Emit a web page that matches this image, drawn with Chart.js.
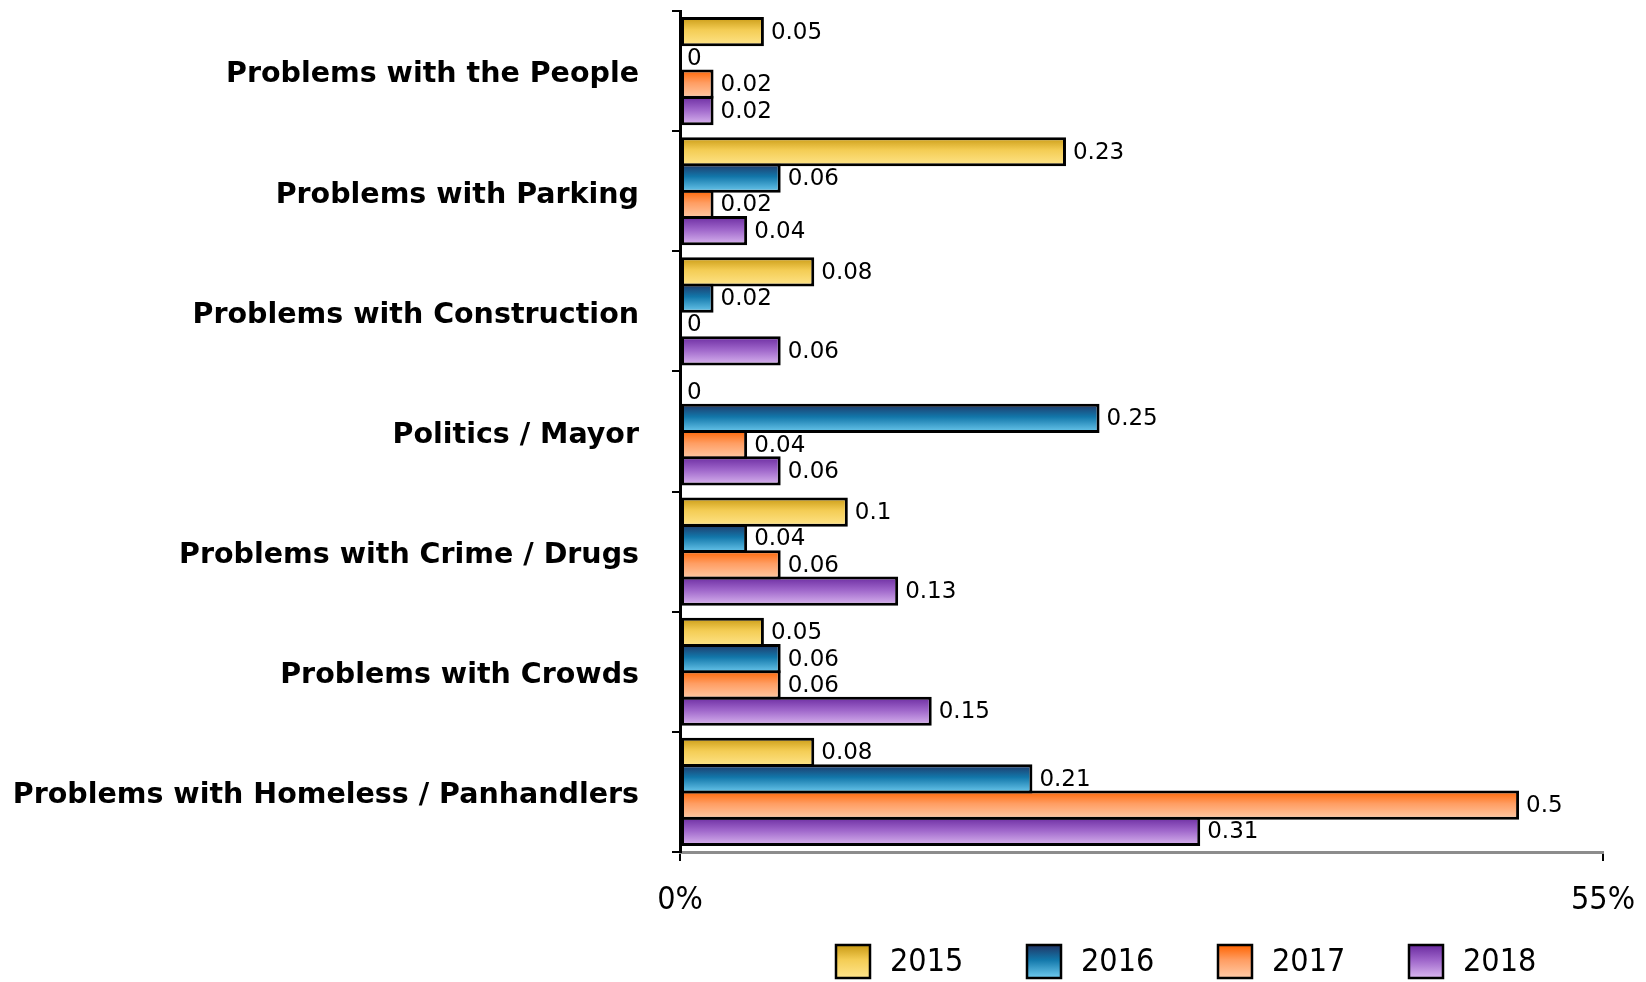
<!DOCTYPE html>
<html>
<head>
<meta charset="utf-8">
<script src="https://cdn.jsdelivr.net/npm/chart.js@4/dist/chart.umd.min.js"></script>
<style>
  html, body { margin: 0; padding: 0; background: #ffffff; }
  #wrap { width: 1646px; height: 982px; position: relative; }
</style>
</head>
<body>
<div id="wrap"><canvas id="chart"></canvas></div>
<script>
// Complaint categories (top to bottom) and yearly shares
const categories = [
  'Problems with the People',
  'Problems with Parking',
  'Problems with Construction',
  'Politics / Mayor',
  'Problems with Crime / Drugs',
  'Problems with Crowds',
  'Problems with Homeless / Panhandlers'
];
const years = ['2015', '2016', '2017', '2018'];
const values2015 = [0.05, 0.23, 0.08, 0, 0.1, 0.05, 0.08];
const values2016 = [0, 0.06, 0.02, 0.25, 0.04, 0.06, 0.21];
const values2017 = [0.02, 0.02, 0, 0.04, 0.06, 0.06, 0.5];
const values2018 = [0.02, 0.04, 0.06, 0.06, 0.13, 0.15, 0.31];
const axisTickValues = [0, 0.55];
const axisTickLabels = ['0%', '55%'];

// Vertical gradient stops (top -> bottom) for each year's bars
const gradientStops = {
  '2015': ['#c99a14', '#f4cd55', '#ffe58c'],
  '2016': ['#213565', '#1277aa', '#70ccf0'],
  '2017': ['#ff6300', '#ff9d62', '#ffcba8'],
  '2018': ['#6a2a9f', '#9d64c9', '#dbb8f0']
};

const seriesValues = [values2015, values2016, values2017, values2018];

function makeGradient(ctx, year, top, height) {
  const stops = gradientStops[year];
  const g = ctx.createLinearGradient(0, top, 0, top + height);
  g.addColorStop(0, stops[0]);
  g.addColorStop(0.45, stops[1]);
  g.addColorStop(1, stops[2]);
  return g;
}

// Paint each bar with its own top-to-bottom gradient
const barGradientPlugin = {
  id: 'barGradient',
  beforeDatasetsDraw(chart) {
    const ctx = chart.ctx;
    chart.data.datasets.forEach((ds, i) => {
      const meta = chart.getDatasetMeta(i);
      meta.data.forEach(el => {
        const top = el.y - el.height / 2;
        el.options.backgroundColor = makeGradient(ctx, ds.label, top, el.height);
      });
    });
  }
};

// Nudge the category names down so their letters sit centred on each band
const categoryLabelShift = {
  id: 'categoryLabelShift',
  beforeDraw(chart) {
    const items = chart.scales.y.getLabelItems();
    items.forEach(it => {
      if (!it.shifted) {
        it.options.translation[1] += 4;
        it.shifted = true;
      }
    });
  }
};

// Value printed just past the end of each bar
const valueLabelPlugin = {
  id: 'valueLabels',
  afterDatasetsDraw(chart) {
    const ctx = chart.ctx;
    ctx.save();
    ctx.font = '23px "DejaVu Sans"';
    ctx.fillStyle = '#000000';
    ctx.textAlign = 'left';
    ctx.textBaseline = 'middle';
    chart.data.datasets.forEach((ds, i) => {
      const meta = chart.getDatasetMeta(i);
      meta.data.forEach((el, j) => {
        ctx.fillText(String(ds.data[j]), el.x + 7, el.y + 1);
      });
    });
    ctx.restore();
  }
};

// Year legend along the bottom edge
const yearLegendPlugin = {
  id: 'yearLegend',
  afterDraw(chart) {
    const ctx = chart.ctx;
    const startX = 836, step = 191, boxY = 945, boxW = 34, boxH = 33;
    ctx.save();
    years.forEach((year, i) => {
      const x = startX + i * step;
      ctx.fillStyle = makeGradient(ctx, year, boxY, boxH);
      ctx.fillRect(x, boxY, boxW, boxH);
      ctx.lineWidth = 2.5;
      ctx.strokeStyle = '#000000';
      ctx.strokeRect(x, boxY, boxW, boxH);
      ctx.fillStyle = '#000000';
      ctx.font = '32px "DejaVu Sans Condensed"';
      ctx.textAlign = 'left';
      ctx.textBaseline = 'middle';
      ctx.fillText(year, x + 54, boxY + boxH / 2 + 1);
    });
    ctx.restore();
  }
};

const datasets = years.map((year, i) => ({
  label: year,
  data: seriesValues[i],
  backgroundColor: () => gradientStops[year][1],
  borderColor: '#000000',
  borderWidth: c => (c.raw === 0 ? 0 : 3),
  borderSkipped: false,
  categoryPercentage: 0.876,
  barPercentage: 1.11
}));

new Chart(document.getElementById('chart'), {
  type: 'bar',
  data: { labels: categories, datasets },
  options: {
    indexAxis: 'y',
    responsive: true,
    maintainAspectRatio: false,
    animation: false,
    layout: { padding: { top: 11, right: 43, left: 12, bottom: 0 } },
    plugins: {
      legend: { display: false },
      tooltip: { enabled: false }
    },
    scales: {
      x: {
        type: 'linear',
        position: 'bottom',
        min: 0,
        max: 0.55,
        afterBuildTicks: s => { s.ticks = axisTickValues.map(v => ({ value: v })); },
        afterFit: s => { s.height = 130; s.paddingLeft = 0; s.paddingRight = 0; },
        ticks: {
          autoSkip: false,
          maxRotation: 0,
          padding: 20,
          color: '#000000',
          font: { family: '"DejaVu Sans Condensed"', size: 32 },
          callback: (v, i) => axisTickLabels[i]
        },
        grid: { drawOnChartArea: false, drawTicks: true, tickLength: 9, color: '#000000', lineWidth: 2 },
        border: { display: true, color: '#8c8c8c', width: 3 }
      },
      y: {
        type: 'category',
        position: 'left',
        afterFit: s => { s.width = 668; s.paddingTop = 0; s.paddingBottom = 0; },
        ticks: {
          padding: 33,
          color: '#000000',
          font: { family: '"DejaVu Sans"', size: 28.5, weight: 'bold' }
        },
        grid: { offset: true, drawOnChartArea: false, drawTicks: true, tickLength: 8, color: '#000000', lineWidth: 2 },
        border: { display: true, color: '#000000', width: 3 }
      }
    }
  },
  plugins: [barGradientPlugin, categoryLabelShift, valueLabelPlugin, yearLegendPlugin]
});
</script>
</body>
</html>
